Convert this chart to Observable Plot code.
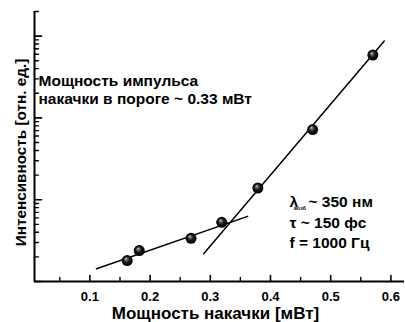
<!DOCTYPE html>
<html>
<head>
<meta charset="utf-8">
<script src="https://cdn.jsdelivr.net/npm/d3@7"></script>
<script src="https://cdn.jsdelivr.net/npm/@observablehq/plot@0.6"></script>
<style>
  html, body { margin: 0; padding: 0; background: #fff; }
  svg { display: block; }
</style>
</head>
<body>
<div id="chart"></div>
<script>
// Data
const power = [0.162, 0.182, 0.268, 0.319, 0.379, 0.470, 0.570];   // мВт
const intensity = [1.80, 2.39, 3.37, 5.29, 13.9, 72, 587];          // отн. ед.
const lowFitX = [0.111, 0.362];
const lowFitY = [1.43, 6.26];
const highFitX = [0.289, 0.589];
const highFitY = [2.18, 869];
const xMajorTicks = [0.1, 0.2, 0.3, 0.4, 0.5, 0.6];
const xMinorTicks = [0.05, 0.15, 0.25, 0.35, 0.45, 0.55];
const yMajorTicks = [1, 10, 100, 1000];
const yMinorTicks = [2,3,4,5,6,7,8,9,20,30,40,50,60,70,80,90,200,300,400,500,600,700,800,900,2000];
const xTitle = "Мощность накачки [мВт]";
const yTitle = "Интенсивность [отн. ед.]";
const noteLines = ["Мощность импульса", "накачки в пороге ~ 0.33 мВт"];
const paramLines = ["τ ~ 150 фс", "f = 1000 Гц"];

const points = power.map((p, i) => ({p, v: intensity[i]}));
const lowFit = lowFitX.map((p, i) => ({p, v: lowFitY[i]}));
const highFit = highFitX.map((p, i) => ({p, v: highFitY[i]}));

const font = "'Liberation Sans', Arial, sans-serif";
const xDomain = [0.008, 0.6226];

// inward tick shapes for vector marks
const tickUp = {draw(ctx, l) { ctx.moveTo(0, 0); ctx.lineTo(0, -l); }};
const tickRight = {draw(ctx, l) { ctx.moveTo(0, 0); ctx.lineTo(l, 0); }};

const txt = {textAnchor: "start", lineAnchor: "bottom", fontWeight: "bold", fill: "#000", frameAnchor: "top-left"};

const plot = Plot.plot({
  width: 405,
  height: 322,
  marginLeft: 34,
  marginRight: 1,
  marginTop: 11,
  marginBottom: 41,
  style: {fontFamily: font, background: "#fff", color: "#000", overflow: "visible"},
  x: {domain: xDomain, axis: null},
  y: {type: "log", domain: [1, 2000], axis: null},
  marks: [
    // axis lines
    Plot.ruleY([1], {strokeWidth: 2, stroke: "#000"}),
    Plot.ruleX([xDomain[0]], {strokeWidth: 2, stroke: "#000"}),
    // x ticks (inward)
    Plot.vector(xMajorTicks, {x: d => d, frameAnchor: "bottom", length: 6, anchor: "start", shape: tickUp, stroke: "#000", strokeWidth: 1.6}),
    Plot.vector(xMinorTicks, {x: d => d, frameAnchor: "bottom", length: 4, anchor: "start", shape: tickUp, stroke: "#000", strokeWidth: 1.4}),
    Plot.text(xMajorTicks, {x: d => d, frameAnchor: "bottom", dy: 10, text: d => d.toFixed(1), lineAnchor: "top",
      fontSize: 13, fontWeight: "bold", fill: "#000"}),
    // y ticks (inward, no labels)
    Plot.vector(yMajorTicks, {y: d => d, frameAnchor: "left", length: 7, anchor: "start", shape: tickRight, stroke: "#000", strokeWidth: 1.6}),
    Plot.vector(yMinorTicks, {y: d => d, frameAnchor: "left", length: 4, anchor: "start", shape: tickRight, stroke: "#000", strokeWidth: 1.4}),
    // fit lines
    Plot.line(lowFit, {x: "p", y: "v", stroke: "#000", strokeWidth: 1.5}),
    Plot.line(highFit, {x: "p", y: "v", stroke: "#000", strokeWidth: 1.5}),
    // data points
    Plot.dot(points, {x: "p", y: "v", r: 5.5, fill: "url(#sphere)", stroke: "none"}),
    // axis titles
    Plot.text([xTitle], {frameAnchor: "bottom", dx: -4, dy: 37, lineAnchor: "bottom", textAnchor: "middle",
      fontSize: 17, fontWeight: "bold", fill: "#000"}),
    Plot.text([yTitle], {frameAnchor: "left", dx: -13, dy: 6, rotate: -90, lineAnchor: "middle", textAnchor: "middle",
      fontSize: 15.3, fontWeight: "bold", fill: "#000"}),
    // annotations
    Plot.text([noteLines[0]], {...txt, dx: 4, dy: 74, fontSize: 15.5}),
    Plot.text([noteLines[1]], {...txt, dx: 4, dy: 92, fontSize: 15.5, letterSpacing: "0.4px"}),
    Plot.text(["λ"], {...txt, dx: 255, dy: 195, fontSize: 15.5}),
    Plot.text(["возб"], {...txt, dx: 259.5, dy: 198, fontSize: 5.2}),
    Plot.text(["~ 350 нм"], {...txt, dx: 274, dy: 195, fontSize: 15.5}),
    Plot.text([paramLines[0]], {...txt, dx: 255, dy: 216, fontSize: 15.5}),
    Plot.text([paramLines[1]], {...txt, dx: 255, dy: 236, fontSize: 15.5})
  ]
});

// radial gradient for the sphere-like markers
const svg = d3.select(plot);
const defs = svg.insert("defs", ":first-child");
const g = defs.append("radialGradient").attr("id", "sphere")
  .attr("cx", "0.5").attr("cy", "0.5").attr("r", "0.5")
  .attr("fx", "0.38").attr("fy", "0.32");
g.append("stop").attr("offset", "0").attr("stop-color", "#e0e0e0");
g.append("stop").attr("offset", "0.2").attr("stop-color", "#707070");
g.append("stop").attr("offset", "0.55").attr("stop-color", "#151515");
g.append("stop").attr("offset", "1").attr("stop-color", "#000");

document.getElementById("chart").appendChild(plot);
</script>
</body>
</html>
